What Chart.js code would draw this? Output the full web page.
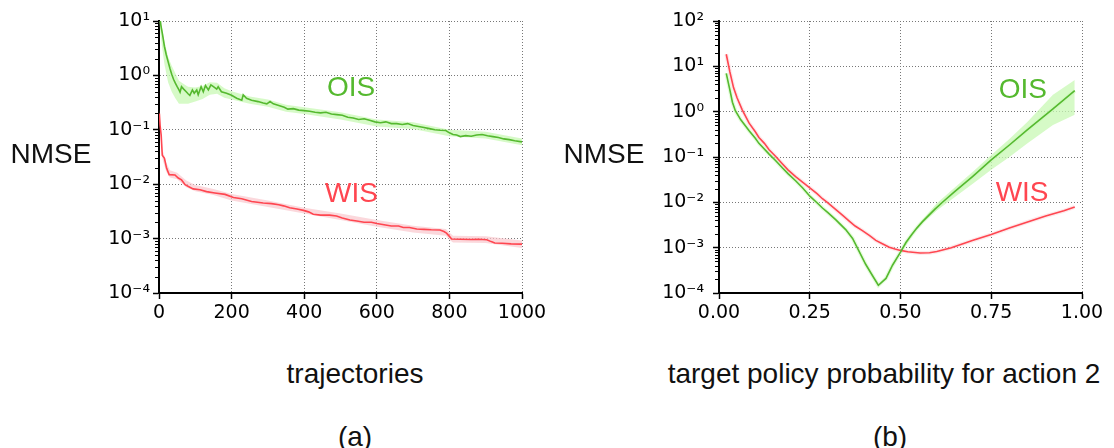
<!DOCTYPE html>
<html>
<head>
<meta charset="utf-8">
<script src="https://cdn.jsdelivr.net/npm/chart.js@4.4.0/dist/chart.umd.min.js"></script>
<style>
  body { margin: 0; width: 1114px; height: 448px; background: #fff; position: relative; overflow: hidden;
         font-family: "Liberation Sans", Arial, sans-serif; }
  canvas { position: absolute; top: 0; }
  .txt { position: absolute; font-size: 28px; line-height: 28px; color: #111; white-space: nowrap;
         transform: translate(-50%, -50%); }
</style>
</head>
<body>
<canvas id="chartA" width="557" height="340" style="left:0"></canvas>
<canvas id="chartB" width="557" height="340" style="left:557px"></canvas>

<div class="txt" style="left:51px;top:154px">NMSE</div>
<div class="txt" style="left:355px;top:374px">trajectories</div>
<div class="txt" style="left:355px;top:437px">(a)</div>
<div class="txt" style="left:604px;top:154px">NMSE</div>
<div class="txt" style="left:884px;top:374px">target policy probability for action 2</div>
<div class="txt" style="left:890px;top:437px">(b)</div>

<script>
// ---- axis ticks ----
const trajTicks = [0, 200, 400, 600, 800, 1000];
const probTicks = [0, 0.25, 0.5, 0.75, 1];
const probTickLabels = ['0.00', '0.25', '0.50', '0.75', '1.00'];
const nmseTicksA = [1e-4, 1e-3, 1e-2, 1e-1, 1e0, 1e1];
const nmseLabelsA = ['10⁻⁴', '10⁻³', '10⁻²', '10⁻¹', '10⁰', '10¹'];
const nmseTicksB = [1e-4, 1e-3, 1e-2, 1e-1, 1e0, 1e1, 1e2];
const nmseLabelsB = ['10⁻⁴', '10⁻³', '10⁻²', '10⁻¹', '10⁰', '10¹', '10²'];

// ---- (a) NMSE vs number of trajectories ----
const oisTraj = [1, 5, 10, 15, 20, 25, 30, 35, 40, 45, 50, 55, 58, 62, 68, 75, 80, 85, 92, 97, 104, 108, 116, 122, 128, 136, 143, 150, 159, 163, 172, 186, 200, 214, 228, 232, 241, 255, 273, 287, 297, 306, 315, 330, 345, 355, 370, 385, 400, 415, 430, 445, 460, 475, 490, 505, 520, 535, 550, 565, 580, 595, 610, 625, 640, 655, 670, 685, 700, 715, 730, 745, 760, 775, 790, 800, 810, 820, 830, 845, 860, 875, 890, 905, 920, 935, 950, 965, 980, 1000];
const oisNmse = [14, 8.5, 5.5, 3.4, 2.4, 1.8, 1.35, 1.05, 0.85, 0.72, 0.62, 0.54, 0.49, 0.62, 0.56, 0.50, 0.46, 0.43, 0.54, 0.47, 0.54, 0.44, 0.62, 0.50, 0.65, 0.54, 0.67, 0.62, 0.56, 0.62, 0.50, 0.47, 0.43, 0.38, 0.35, 0.44, 0.38, 0.35, 0.33, 0.31, 0.30, 0.33, 0.30, 0.28, 0.26, 0.24, 0.245, 0.23, 0.225, 0.22, 0.21, 0.205, 0.21, 0.195, 0.19, 0.185, 0.17, 0.165, 0.155, 0.16, 0.15, 0.14, 0.135, 0.14, 0.13, 0.13, 0.125, 0.13, 0.12, 0.115, 0.11, 0.105, 0.10, 0.098, 0.097, 0.088, 0.082, 0.080, 0.075, 0.078, 0.076, 0.080, 0.082, 0.078, 0.075, 0.072, 0.068, 0.066, 0.063, 0.060];
const oisBandTraj = [1, 8, 15, 25, 35, 45, 55, 65, 80, 100, 120, 140, 160, 180, 200, 250, 300, 350, 400, 500, 600, 700, 800, 900, 1000];
const oisBandHi = [16, 7.5, 4.2, 2.2, 1.5, 1.1, 0.8, 0.72, 0.62, 0.6, 0.64, 0.75, 0.73, 0.58, 0.51, 0.41, 0.36, 0.29, 0.26, 0.21, 0.155, 0.138, 0.10, 0.092, 0.069];
const oisBandLo = [9, 3.5, 1.6, 0.75, 0.5, 0.38, 0.30, 0.30, 0.30, 0.33, 0.37, 0.44, 0.46, 0.39, 0.36, 0.30, 0.265, 0.215, 0.195, 0.155, 0.115, 0.103, 0.076, 0.069, 0.052];

const wisTraj = [1, 3, 6, 9, 15, 21, 28, 44, 53, 62, 72, 81, 94, 113, 131, 154, 182, 205, 228, 255, 287, 310, 330, 343, 360, 380, 398, 412, 425, 445, 470, 489, 505, 526, 545, 565, 585, 600, 620, 640, 660, 673, 690, 710, 730, 750, 774, 785, 792, 800, 806, 830, 860, 880, 903, 915, 925, 945, 970, 1000];
const wisNmse = [0.2, 0.12, 0.08, 0.034, 0.030, 0.0196, 0.015, 0.0148, 0.013, 0.012, 0.0098, 0.0091, 0.0082, 0.0079, 0.0073, 0.0069, 0.0065, 0.0057, 0.0054, 0.0048, 0.0045, 0.0044, 0.0042, 0.0040, 0.0037, 0.0035, 0.0033, 0.0031, 0.0028, 0.0027, 0.0027, 0.0026, 0.0024, 0.0022, 0.0021, 0.0020, 0.0020, 0.0019, 0.0018, 0.0017, 0.0017, 0.0016, 0.0016, 0.0015, 0.00148, 0.00145, 0.00144, 0.00135, 0.00126, 0.0011, 0.00098, 0.00097, 0.00096, 0.00097, 0.00095, 0.00088, 0.00083, 0.00082, 0.0008, 0.00079];
const wisBandTraj = [1, 5, 10, 20, 30, 50, 75, 100, 150, 200, 300, 400, 500, 600, 700, 790, 800, 810, 900, 1000];
const wisBandHi = [0.24, 0.10, 0.042, 0.025, 0.018, 0.0163, 0.0117, 0.0097, 0.0082, 0.0066, 0.0050, 0.0037, 0.0029, 0.0022, 0.00172, 0.0015, 0.0013, 0.00113, 0.0011, 0.00092];
const wisBandLo = [0.16, 0.065, 0.028, 0.017, 0.0133, 0.0123, 0.0088, 0.0074, 0.0063, 0.0050, 0.0038, 0.0029, 0.0022, 0.00165, 0.0013, 0.00113, 0.00095, 0.00085, 0.00083, 0.00067];

// ---- (b) NMSE vs target policy probability ----
const oisProb = [0.02, 0.03, 0.037, 0.045, 0.06, 0.083, 0.10, 0.11, 0.138, 0.155, 0.175, 0.19, 0.211, 0.23, 0.251, 0.27, 0.285, 0.30, 0.322, 0.349, 0.368, 0.386, 0.404, 0.423, 0.439, 0.46, 0.478, 0.50, 0.515, 0.53, 0.545, 0.56, 0.575, 0.595, 0.614, 0.65, 0.70, 0.75, 0.80, 0.85, 0.92, 0.98];
const oisProbNmse = [7.0, 3.0, 1.62, 1.05, 0.66, 0.38, 0.26, 0.20, 0.116, 0.085, 0.057, 0.043, 0.030, 0.021, 0.0135, 0.0098, 0.0075, 0.0059, 0.0041, 0.0025, 0.0016, 0.00083, 0.00043, 0.00024, 0.000148, 0.00021, 0.00041, 0.0008, 0.0013, 0.0019, 0.0027, 0.0037, 0.0049, 0.0071, 0.0098, 0.0174, 0.038, 0.086, 0.184, 0.40, 1.15, 2.9];
const oisProbBand = [0.50, 0.55, 0.60, 0.70, 0.75, 0.80, 0.85, 0.92, 0.98];
const oisProbHi = [0.00085, 0.0033, 0.0095, 0.048, 0.11, 0.25, 0.60, 2.35, 5.0];
const oisProbLo = [0.00075, 0.0029, 0.0066, 0.026, 0.052, 0.10, 0.20, 0.51, 0.85];

const wisProb = [0.02, 0.03, 0.04, 0.05, 0.064, 0.083, 0.10, 0.11, 0.125, 0.138, 0.155, 0.175, 0.19, 0.211, 0.23, 0.251, 0.27, 0.285, 0.30, 0.322, 0.34, 0.358, 0.375, 0.395, 0.415, 0.432, 0.45, 0.469, 0.485, 0.50, 0.52, 0.554, 0.58, 0.60, 0.64, 0.70, 0.75, 0.80, 0.85, 0.90, 0.95, 0.98];
const wisProbNmse = [18.5, 7.5, 3.4, 2.0, 1.1, 0.557, 0.36, 0.27, 0.20, 0.144, 0.105, 0.070, 0.052, 0.037, 0.028, 0.0206, 0.0155, 0.012, 0.0097, 0.0069, 0.0052, 0.0039, 0.0030, 0.00237, 0.00185, 0.00145, 0.00122, 0.00102, 0.00093, 0.00087, 0.00081, 0.00076, 0.00077, 0.00082, 0.0010, 0.00145, 0.00195, 0.0027, 0.0037, 0.0050, 0.0065, 0.0079];

const OIS_GREEN = '#55b92f';
const WIS_RED = '#ff4650';

Chart.defaults.font.family = 'DejaVu Sans';
Chart.defaults.color = '#000';

const pts = (xs, ys) => xs.map((x, i) => ({ x: x, y: ys[i] }));

function lineSet(xs, ys, color, width) {
    return { data: pts(xs, ys), borderColor: color, borderWidth: width, pointRadius: 0, fill: false, tension: 0 };
}

// upper edge + lower edge filled back to the upper one
function bandSets(xs, hi, lo, color) {
    return [
        { data: pts(xs, hi), borderColor: 'rgba(0,0,0,0)', borderWidth: 0, pointRadius: 0, fill: false },
        { data: pts(xs, lo), borderColor: 'rgba(0,0,0,0)', borderWidth: 0, pointRadius: 0, backgroundColor: color, fill: '-1' }
    ];
}

// short unlabeled ticks between the decades
const minorTicks = {
    id: 'minorTicks',
    afterDraw(chart) {
        const y = chart.scales.y, ctx = chart.ctx;
        ctx.save();
        ctx.strokeStyle = '#000';
        ctx.lineWidth = 1;
        ctx.beginPath();
        for (let e = Math.round(Math.log10(y.min)); e < Math.round(Math.log10(y.max)); e++) {
            for (let m = 2; m < 10; m++) {
                const py = Math.round(y.getPixelForValue(m * Math.pow(10, e))) + 0.5;
                ctx.moveTo(y.right - 4, py);
                ctx.lineTo(y.right, py);
            }
        }
        ctx.stroke();
        ctx.restore();
    }
};

// OIS / WIS names written next to their curves
const seriesTags = {
    id: 'seriesTags',
    afterDatasetsDraw(chart, args, opts) {
        const ctx = chart.ctx;
        ctx.save();
        ctx.font = '28px "Liberation Sans", Arial, sans-serif';
        ctx.textAlign = 'center';
        ctx.textBaseline = 'middle';
        opts.items.forEach(t => {
            ctx.fillStyle = t.color;
            ctx.fillText(t.text, chart.scales.x.getPixelForValue(t.x), chart.scales.y.getPixelForValue(t.y));
        });
        ctx.restore();
    }
};

function makeChart(id, cfg) {
    return new Chart(document.getElementById(id), {
        type: 'line',
        data: { datasets: cfg.datasets },
        options: {
            responsive: false,
            animation: false,
            layout: { padding: { top: 21, right: cfg.padRight, left: 0, bottom: 0 } },
            plugins: { legend: { display: false }, tooltip: { enabled: false }, seriesTags: { items: cfg.tags } },
            scales: {
                x: {
                    type: 'linear', min: cfg.xTicks[0], max: cfg.xTicks[cfg.xTicks.length - 1],
                    afterBuildTicks: s => { s.ticks = cfg.xTicks.map(v => ({ value: v })); },
                    afterFit: s => { s.height = 47; },
                    ticks: { autoSkip: false, maxRotation: 0, padding: 3, font: { size: 19 }, color: '#000',
                             callback: (v, i) => cfg.xLabels[i] },
                    grid: { color: '#777', lineWidth: 1, tickLength: 6, tickColor: '#000', tickWidth: 1.5 },
                    border: { display: true, color: '#000', width: 2, dash: [1, 2] }
                },
                y: {
                    type: 'logarithmic', min: cfg.yTicks[0], max: cfg.yTicks[cfg.yTicks.length - 1],
                    afterBuildTicks: s => { s.ticks = cfg.yTicks.map(v => ({ value: v, major: true })); },
                    afterFit: s => { s.width = cfg.yWidth; },
                    ticks: { autoSkip: false, padding: cfg.yPad, font: { size: 19 }, color: '#000',
                             callback: (v, i) => cfg.yLabels[i] },
                    grid: { color: '#777', lineWidth: 1, tickLength: 6, tickColor: '#000', tickWidth: 1.5 },
                    border: { display: true, color: '#000', width: 2, dash: [1, 2] }
                }
            }
        },
        plugins: [minorTicks, seriesTags]
    });
}

makeChart('chartA', {
    xTicks: trajTicks, xLabels: trajTicks.map(String),
    yTicks: nmseTicksA, yLabels: nmseLabelsA,
    yWidth: 159, yPad: 3, padRight: 35,
    datasets: [
        lineSet(oisTraj, oisNmse, OIS_GREEN, 1.6),
        lineSet(wisTraj, wisNmse, WIS_RED, 1.6),
        ...bandSets(oisBandTraj, oisBandHi, oisBandLo, 'rgba(200,248,180,0.75)'),
        ...bandSets(wisBandTraj, wisBandHi, wisBandLo, 'rgba(250,200,205,0.7)')
    ],
    tags: [
        { text: 'OIS', x: 529, y: 0.59, color: OIS_GREEN },
        { text: 'WIS', x: 530, y: 0.0066, color: WIS_RED }
    ]
});

makeChart('chartB', {
    xTicks: probTicks, xLabels: probTickLabels,
    yTicks: nmseTicksB, yLabels: nmseLabelsB,
    yWidth: 162, yPad: 9, padRight: 32,
    datasets: [
        lineSet(oisProb, oisProbNmse, OIS_GREEN, 1.6),
        lineSet(wisProb, wisProbNmse, WIS_RED, 1.6),
        lineSet(oisProb, oisProbNmse, 'rgba(200,248,180,0.45)', 4),
        lineSet(wisProb, wisProbNmse, 'rgba(250,200,205,0.4)', 4),
        ...bandSets(oisProbBand, oisProbHi, oisProbLo, 'rgba(200,248,180,0.75)')
    ],
    tags: [
        { text: 'OIS', x: 0.837, y: 3.0, color: OIS_GREEN },
        { text: 'WIS', x: 0.835, y: 0.0162, color: WIS_RED }
    ]
});
</script>
</body>
</html>
